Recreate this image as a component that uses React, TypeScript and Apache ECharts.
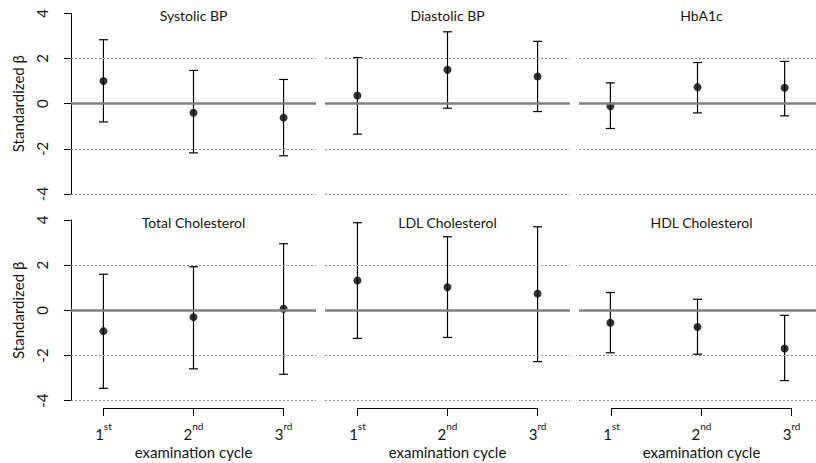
import React, { useEffect, useRef } from 'react';
import * as echarts from 'echarts';

const panelTitles = ['Systolic BP', 'Diastolic BP', 'HbA1c', 'Total Cholesterol', 'LDL Cholesterol', 'HDL Cholesterol'];
const cycles = [1, 2, 3];
const cycleSuffixes = ['st', 'nd', 'rd'];
const dottedGridValues = [2, -2, -4];
const zeroLineValue = 0;

// [estimate, lower CI, upper CI] per examination cycle
const systolicBP = [[1.0, -0.81, 2.83], [-0.40, -2.18, 1.47], [-0.62, -2.31, 1.07]];
const diastolicBP = [[0.36, -1.35, 2.04], [1.50, -0.20, 3.18], [1.20, -0.35, 2.76]];
const hba1c = [[-0.12, -1.10, 0.92], [0.73, -0.41, 1.82], [0.70, -0.54, 1.87]];
const totalChol = [[-0.92, -3.45, 1.60], [-0.30, -2.59, 1.93], [0.07, -2.83, 2.95]];
const ldlChol = [[1.32, -1.24, 3.88], [1.02, -1.20, 3.26], [0.74, -2.27, 3.70]];
const hdlChol = [[-0.55, -1.88, 0.79], [-0.74, -1.94, 0.49], [-1.69, -3.11, -0.22]];
const panelData = [systolicBP, diastolicBP, hba1c, totalChol, ldlChol, hdlChol];

const PANEL_LEFT = [71, 325, 579];
const PANEL_W = 245;
const ROW_TOP = [13.3, 220];
const ROW_H = 180.7;
const X_MIN = 0.64;
const X_MAX = 3.36;
const AXIS_Y = 408;
const FONT = 'Lato, "Noto Sans", sans-serif';
const TEXT_COLOR = '#151515';

function buildOption() {
  const grid: any[] = [];
  const xAxis: any[] = [];
  const yAxis: any[] = [];
  const series: any[] = [];
  const graphic: any[] = [];

  panelData.forEach((rows, p) => {
    const r = Math.floor(p / 3);
    const c = p % 3;
    grid.push({ left: PANEL_LEFT[c], top: ROW_TOP[r], width: PANEL_W, height: ROW_H, containLabel: false });
    xAxis.push({ gridIndex: p, type: 'value', min: X_MIN, max: X_MAX, show: false });
    const isLeft = c === 0;
    yAxis.push({
      gridIndex: p,
      type: 'value',
      min: -4,
      max: 4,
      interval: 2,
      show: isLeft,
      splitLine: { show: false },
      axisLine: { show: true, onZero: false, lineStyle: { color: '#000', width: 1 } },
      axisTick: { show: true, length: 7, lineStyle: { color: '#000', width: 1 } },
      axisLabel: { rotate: 90, margin: 22, fontSize: 15, color: TEXT_COLOR, fontFamily: FONT },
      name: isLeft ? 'Standardized β' : '',
      nameLocation: 'middle',
      nameGap: 46,
      nameTextStyle: { fontSize: 15, color: TEXT_COLOR, fontFamily: FONT },
    });

    series.push({
      type: 'line',
      xAxisIndex: p,
      yAxisIndex: p,
      data: [],
      z: 1,
      silent: true,
      markLine: {
        silent: true,
        symbol: ['none', 'none'],
        label: { show: false },
        animation: false,
        data: [
          ...dottedGridValues.map((v) => ({ yAxis: v, lineStyle: { color: '#8a8a8a', type: [2, 2], width: 1 } })),
          { yAxis: zeroLineValue, lineStyle: { color: '#7f7f7f', type: 'solid', width: 2.5 } },
        ],
      },
    });

    series.push({
      type: 'custom',
      xAxisIndex: p,
      yAxisIndex: p,
      z: 3,
      silent: true,
      data: rows.map((row, i) => [cycles[i], row[1], row[2]]),
      encode: { x: 0, y: [1, 2] },
      renderItem: (params: any, api: any) => {
        const x = api.value(0);
        const lo = api.coord([x, api.value(1)]);
        const hi = api.coord([x, api.value(2)]);
        const cap = 4.5;
        const style = { stroke: '#000', lineWidth: 1.2 };
        return {
          type: 'group',
          children: [
            { type: 'line', shape: { x1: lo[0], y1: lo[1], x2: hi[0], y2: hi[1] }, style },
            { type: 'line', shape: { x1: lo[0] - cap, y1: lo[1], x2: lo[0] + cap, y2: lo[1] }, style },
            { type: 'line', shape: { x1: hi[0] - cap, y1: hi[1], x2: hi[0] + cap, y2: hi[1] }, style },
          ],
        };
      },
    });

    series.push({
      type: 'scatter',
      xAxisIndex: p,
      yAxisIndex: p,
      z: 4,
      silent: true,
      symbol: 'circle',
      symbolSize: 8,
      itemStyle: { color: '#000' },
      data: rows.map((row, i) => [cycles[i], row[0]]),
    });

    graphic.push({
      type: 'text',
      x: PANEL_LEFT[c] + PANEL_W / 2,
      y: ROW_TOP[r] + 2.5,
      style: {
        text: panelTitles[p],
        textAlign: 'center',
        textVerticalAlign: 'middle',
        verticalAlign: 'middle',
        fontSize: 14,
        fontFamily: FONT,
        fill: TEXT_COLOR,
      },
    });
  });

  // bottom-row x axes (drawn only between first and last cycle, like R's axis())
  for (let c = 0; c < 3; c++) {
    const gi = grid.length;
    const scale = PANEL_W / (X_MAX - X_MIN);
    grid.push({
      left: PANEL_LEFT[c] + (cycles[0] - X_MIN) * scale,
      width: (cycles[cycles.length - 1] - cycles[0]) * scale,
      top: AXIS_Y - 1,
      height: 1,
    });
    xAxis.push({
      gridIndex: gi,
      type: 'value',
      min: cycles[0],
      max: cycles[cycles.length - 1],
      interval: 1,
      position: 'bottom',
      splitLine: { show: false },
      axisLine: { show: true, onZero: false, lineStyle: { color: '#000', width: 1 } },
      axisTick: { show: true, length: 8, lineStyle: { color: '#000', width: 1 } },
      axisLabel: {
        margin: 13,
        showMinLabel: true,
        showMaxLabel: true,
        formatter: (v: number) => `{n|${v}}{s|${cycleSuffixes[cycles.indexOf(v)]}}`,
        rich: {
          n: { fontSize: 15, lineHeight: 20, verticalAlign: 'bottom', color: TEXT_COLOR, fontFamily: FONT },
          s: { fontSize: 10, lineHeight: 8, verticalAlign: 'top', color: TEXT_COLOR, fontFamily: FONT },
        },
      },
      name: 'examination cycle',
      nameLocation: 'middle',
      nameGap: 36,
      nameTextStyle: { fontSize: 15, color: TEXT_COLOR, fontFamily: FONT },
    });
    yAxis.push({ gridIndex: gi, type: 'value', show: false, min: 0, max: 1 });
  }

  return {
    animation: false,
    backgroundColor: '#fff',
    textStyle: { fontFamily: FONT },
    grid,
    xAxis,
    yAxis,
    series,
    graphic,
  };
}

export default function App() {
  const ref = useRef<HTMLDivElement>(null);
  useEffect(() => {
    if (!ref.current) return;
    const chart = echarts.init(ref.current, undefined, { renderer: 'svg' });
    chart.setOption(buildOption() as any);
    return () => chart.dispose();
  }, []);
  return <div ref={ref} style={{ position: 'fixed', left: 0, top: 0, width: 816, height: 463 }} />;
}
